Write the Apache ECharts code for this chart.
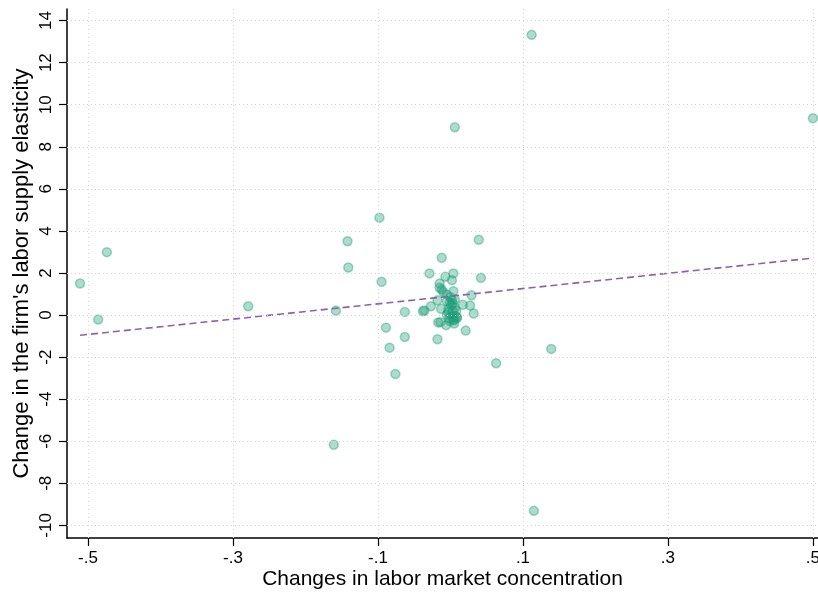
<!DOCTYPE html>
<html>
<head>
<meta charset="utf-8">
<script src="https://cdn.jsdelivr.net/npm/echarts@6/dist/echarts.min.js"></script>
<style>
  html, body { margin: 0; padding: 0; background: #fff; }
  #chart { width: 818px; height: 592px; }
</style>
</head>
<body>
<div id="chart"></div>
<script>
// Changes in labor market concentration (x) vs change in firm's labor supply elasticity (y)
const changeConcentration = [
  -0.511, -0.486, -0.474, -0.279, -0.161, -0.158, -0.142, -0.141, -0.098, -0.095,
  -0.089, -0.084, -0.076, -0.063, -0.063, -0.038, -0.036, -0.029, -0.027, -0.018,
  -0.018, -0.015, -0.015, -0.017, -0.014, -0.013, -0.012, -0.012, -0.010, -0.007,
  -0.005, -0.005, -0.005, -0.006, -0.003, -0.003, -0.001, -0.001, 0.000, 0.001,
  0.002, 0.002, 0.003, 0.004, 0.004, 0.004, 0.005, 0.006, 0.006, 0.007,
  0.009, 0.009, 0.002, -0.002, 0.017, 0.021, 0.027, 0.029, 0.032, 0.039,
  0.042, 0.063, 0.112, 0.115, 0.139, 0.500, 0.006, 0.008, 0.003, 0.005
];
const changeElasticity = [
  1.50, -0.21, 2.99, 0.42, -6.17, 0.21, 3.51, 2.26, 4.63, 1.58,
  -0.60, -1.55, -2.80, 0.15, -1.04, 0.18, 0.22, 1.98, 0.42, 0.70,
  -1.15, 1.50, 1.30, -0.35, -0.34, 0.30, 2.72, 1.21, 1.09, 1.82,
  0.98, 0.66, 0.01, -0.48, 0.26, 0.13, 0.58, -0.29, 0.85, 0.45,
  1.66, -0.06, 0.20, 1.98, 1.13, -0.21, -0.40, 8.93, 0.35, -0.05,
  -0.14, -0.10, 0.72, -0.15, 0.49, -0.74, 0.45, 0.94, 0.07, 3.58,
  1.77, -2.29, 13.32, -9.31, -1.61, 9.36, 0.75, 0.20, 0.55, -0.25
];

// Fitted linear trend, start and end points
const fitX = [-0.511, 0.500];
const fitY = [-0.96, 2.71];

// Axis ticks
const xTicks = [-0.5, -0.3, -0.1, 0.1, 0.3, 0.5];
const yTicks = [-10, -8, -6, -4, -2, 0, 2, 4, 6, 8, 10, 12, 14];

const points = changeConcentration.map((x, i) => [x, changeElasticity[i]]);
const fitLine = fitX.map((x, i) => [x, fitY[i]]);

const fmtX = v => {
  const s = (Math.round(v * 10) / 10).toString();
  return s.replace(/^(-?)0\./, '$1.');
};

const gridStyle = { color: '#d4d4d4', width: 1, type: [1, 3] };
const gridLines = [
  ...xTicks.map(v => ({ xAxis: v })),
  ...yTicks.map(v => ({ yAxis: v }))
];

const chart = echarts.init(document.getElementById('chart'), null, { renderer: 'canvas' });
chart.setOption({
  animation: false,
  backgroundColor: '#ffffff',
  grid: { left: 67, right: 0, top: 9, bottom: 54, containLabel: false, outerBoundsMode: 'none' },
  xAxis: {
    type: 'value',
    min: -0.529,
    max: 0.507,
    name: 'Changes in labor market concentration',
    nameLocation: 'middle',
    nameGap: 31,
    nameMoveOverlap: false,
    nameTextStyle: { fontFamily: 'Liberation Sans', fontSize: 21, color: '#000' },
    axisLine: { show: true, onZero: false, lineStyle: { color: '#000', width: 1.5 } },
    axisTick: { show: true, length: 8, customValues: xTicks, lineStyle: { color: '#000', width: 1.2 } },
    axisLabel: {
      customValues: xTicks, formatter: fmtX, margin: 12,
      fontFamily: 'Liberation Sans', fontSize: 17, color: '#000'
    },
    splitLine: { show: false }
  },
  yAxis: {
    type: 'value',
    min: -10.6,
    max: 14.55,
    name: "Change in the firm's labor supply elasticity",
    nameLocation: 'middle',
    nameGap: 34,
    nameMoveOverlap: false,
    nameRotate: 90,
    nameTextStyle: { fontFamily: 'Liberation Sans', fontSize: 22, color: '#000' },
    axisLine: { show: true, onZero: false, lineStyle: { color: '#000', width: 1.5 } },
    axisTick: { show: true, length: 8, customValues: yTicks, lineStyle: { color: '#000', width: 1.2 } },
    axisLabel: {
      customValues: yTicks, rotate: 90, margin: 12,
      fontFamily: 'Liberation Sans', fontSize: 17, color: '#000'
    },
    splitLine: { show: false }
  },
  series: [
    {
      type: 'line',
      data: [],
      silent: true,
      markLine: {
        silent: true,
        symbol: 'none',
        label: { show: false },
        lineStyle: gridStyle,
        data: gridLines
      }
    },
    {
      type: 'scatter',
      data: points,
      symbol: 'circle',
      symbolSize: 9,
      itemStyle: {
        color: 'rgba(27,158,119,0.45)',
        borderColor: 'rgba(27,158,119,0.5)',
        borderWidth: 1.5
      },
      z: 3
    },
    {
      type: 'line',
      data: fitLine,
      symbol: 'none',
      lineStyle: { color: '#8f5fa9', width: 1.6, type: [7, 4] },
      z: 4
    }
  ]
});
</script>
</body>
</html>
